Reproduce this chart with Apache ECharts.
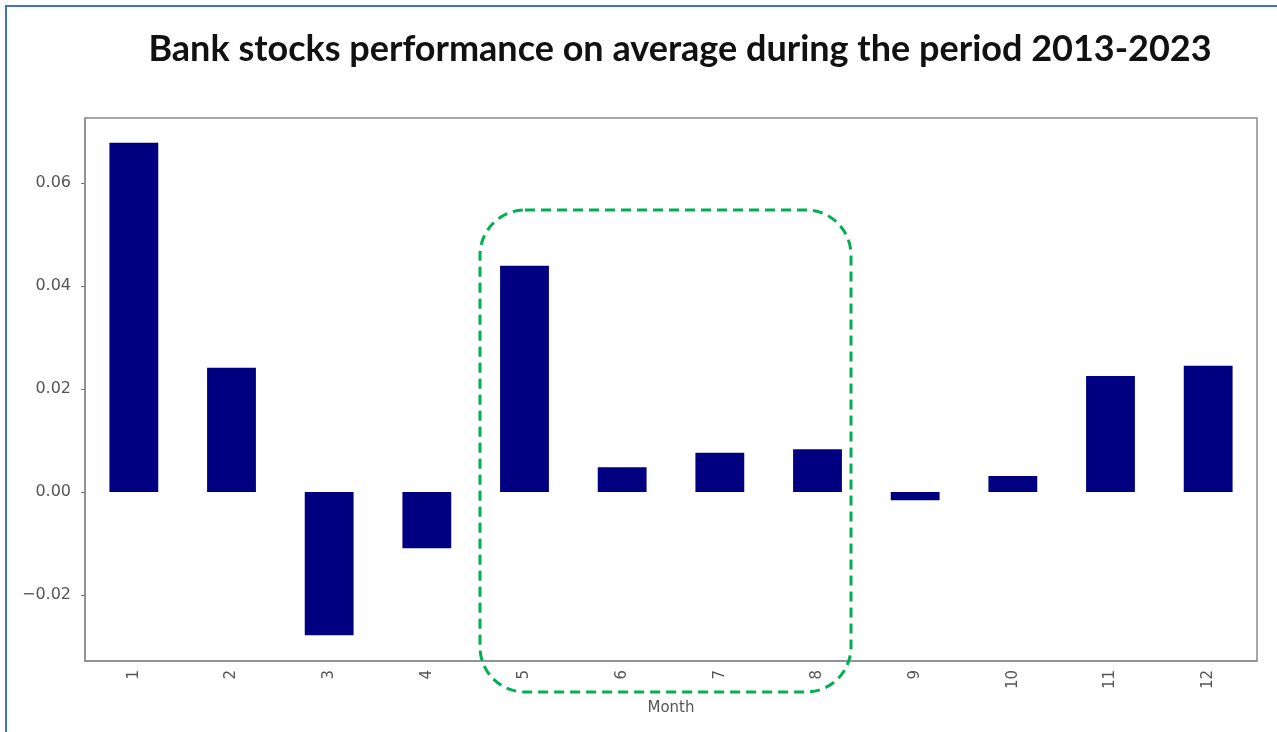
<!DOCTYPE html>
<html>
<head>
<meta charset="utf-8">
<script src="https://cdn.jsdelivr.net/npm/echarts@6/dist/echarts.min.js"></script>
<style>
html,body{margin:0;padding:0;background:#fff;}
#chart{width:1277px;height:732px;}
</style>
</head>
<body>
<div id="chart"></div>
<script>
const titleText = 'Bank stocks performance on average during the period 2013-2023';
const months = ['1','2','3','4','5','6','7','8','9','10','11','12'];
const avgReturn = [0.0678, 0.0241, -0.0278, -0.0109, 0.0439, 0.0048, 0.0076, 0.0083, -0.0016, 0.0031, 0.0225, 0.0245];
const yTicks = [-0.02, 0.00, 0.02, 0.04, 0.06];
const yMin = -0.0328, yMax = 0.0726;

const chart = echarts.init(document.getElementById('chart'));
chart.setOption({
  animation: false,
  backgroundColor: '#ffffff',
  title: {
    text: titleText,
    left: 675, top: 26, textAlign: 'center',
    textStyle: {fontFamily: 'Lato', fontWeight: 'bold', fontSize: 36, color: '#111'}
  },
  grid: {left: 85, right: 20, top: 118, bottom: 71, show: true, borderColor: '#8c8c8c', borderWidth: 1.5, containLabel: false},
  xAxis: {
    type: 'category', data: months,
    name: 'Month', nameLocation: 'middle', nameGap: 40,
    nameTextStyle: {fontFamily: 'DejaVu Sans', fontSize: 15, color: '#555'},
    axisLine: {onZero: false, lineStyle: {color: '#8c8c8c', width: 1.5}},
    axisTick: {alignWithLabel: true, length: 4, lineStyle: {color: '#777'}},
    axisLabel: {rotate: 90, margin: 9, fontFamily: 'DejaVu Sans', fontSize: 15, color: '#555'},
    splitLine: {show: false}
  },
  yAxis: {
    type: 'value', min: yMin, max: yMax,
    axisLine: {show: true, lineStyle: {color: '#8c8c8c', width: 1.5}},
    axisTick: {show: true, length: 4, customValues: yTicks, lineStyle: {color: '#777'}},
    axisLabel: {customValues: yTicks, margin: 14, fontFamily: 'DejaVu Sans', fontSize: 16, color: '#555',
      formatter: v => (v < 0 ? '\u2212' : '') + Math.abs(v).toFixed(2)},
    splitLine: {show: false}
  },
  series: [{
    type: 'bar', data: avgReturn, barWidth: '50%',
    itemStyle: {color: '#000080'}
  }],
  graphic: [
    {type: 'rect', shape: {x: 6, y: 6, width: 1300, height: 800}, style: {fill: 'none', stroke: '#4472C4', lineWidth: 2}, z: 100},
    {type: 'rect', shape: {x: 480, y: 210, width: 371, height: 482, r: 45}, style: {fill: 'none', stroke: '#00B050', lineWidth: 3, lineDash: [10, 6]}, z: 100}
  ]
});
</script>
</body>
</html>
